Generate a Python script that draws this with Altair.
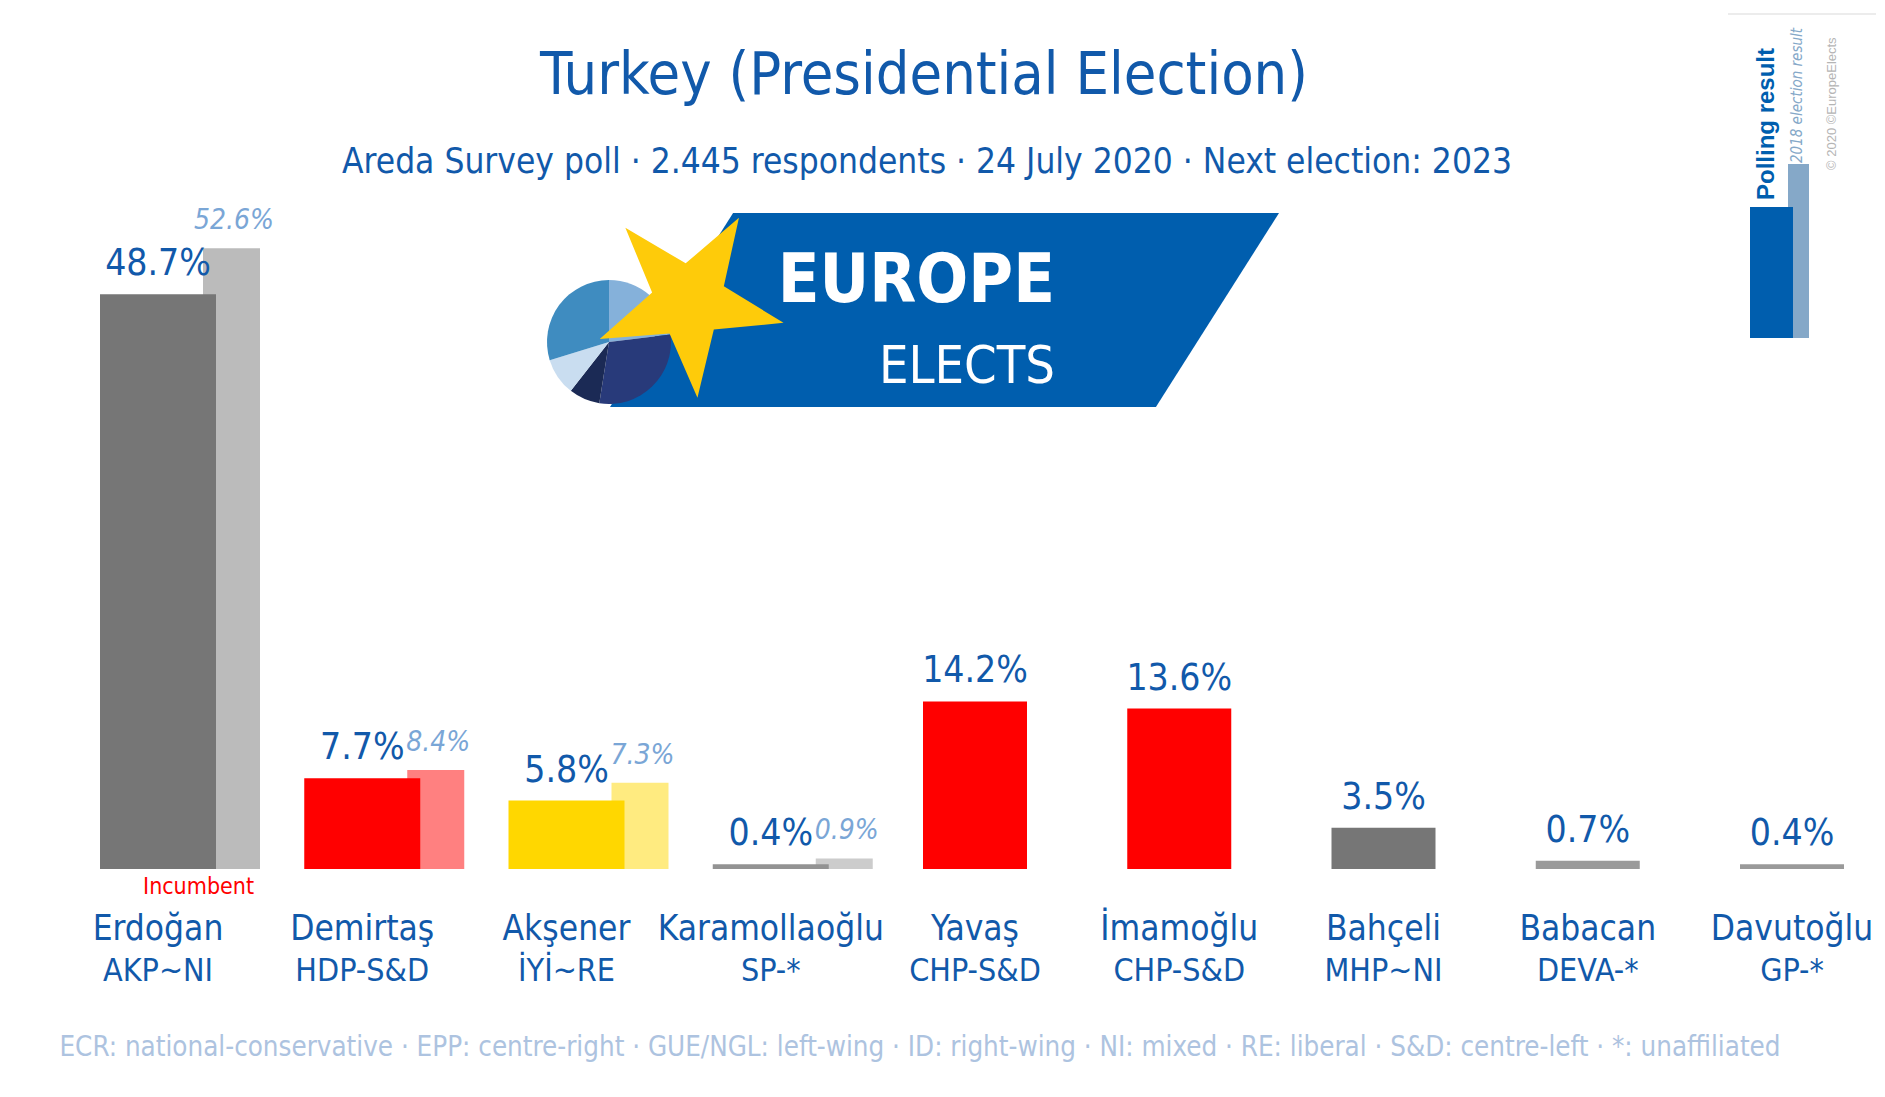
import math
import altair as alt
import pandas as pd

# ---------------- data ----------------
CANDIDATES = ["Erdoğan", "Demirtaş", "Akşener", "Karamollaoğlu", "Yavaş",
              "İmamoğlu", "Bahçeli", "Babacan", "Davutoğlu"]
PARTIES = ["AKP~NI", "HDP-S&D", "İYİ~RE", "SP-*", "CHP-S&D",
           "CHP-S&D", "MHP~NI", "DEVA-*", "GP-*"]
POLL = [48.7, 7.7, 5.8, 0.4, 14.2, 13.6, 3.5, 0.7, 0.4]
PREV = [52.6, 8.4, 7.3, 0.9, None, None, None, None, None]
INCUMBENT = "Erdoğan"

MAIN_COLORS = ["#767676", "#ff0000", "#ffd700", "#939393", "#ff0000",
               "#ff0000", "#767676", "#9a9a9a", "#9a9a9a"]
PREV_COLORS = ["#bbbbbb", "#ff8080", "#ffeb80", "#cccccc", "#ffffff",
               "#ffffff", "#ffffff", "#ffffff", "#ffffff"]

TITLE = "Turkey (Presidential Election)"
SUBTITLE = "Areda Survey poll · 2.445 respondents · 24 July 2020 · Next election: 2023"
FOOTER = ("ECR: national-conservative · EPP: centre-right · GUE/NGL: left-wing · "
          "ID: right-wing · NI: mixed · RE: liberal · S&D: centre-left · *: unaffiliated")
KEY_POLL = "Polling result"
KEY_PREV = "2018 election result"
COPYRIGHT = "© 2020 ©EuropeElects"

LOGO_TOP = "EUROPE"
LOGO_BOTTOM = "ELECTS"
PIE_SHARES = [83, 106, 29, 35, 107]
PIE_COLORS = ["#85b1da", "#283a7a", "#1b2a55", "#c9ddf0", "#3f8cc0"]

# ---------------- styles ----------------
FONT = "DejaVu Sans Condensed, sans-serif"
BLUE = "#1159aa"
LIGHT_BLUE = "#7aa6d6"
LOGO_BLUE = "#005eae"

df = pd.DataFrame({"candidate": CANDIDATES, "party": PARTIES,
                   "poll": POLL, "prev": PREV})

xs = alt.X("candidate:N", sort=CANDIDATES, axis=None,
           scale=alt.Scale(type="point", domain=CANDIDATES, range=[150, 1784], padding=0))
Y_BASE = 861
PX_PER = 11.8
yscale = alt.Scale(domain=[0, 60], range=[Y_BASE, Y_BASE - 60 * PX_PER])

base = alt.Chart(df).transform_calculate(
    lbl="format(datum.poll, '.1f') + '%'",
    plbl="isValid(datum.prev) ? format(datum.prev, '.1f') + '%' : ''",
)

prev_bars = base.transform_filter("isValid(datum.prev)").mark_bar(
    size=57, xOffset=73.5).encode(
    x=xs,
    y=alt.Y("prev:Q", scale=yscale, axis=None),
    color=alt.Color("candidate:N", scale=alt.Scale(domain=CANDIDATES, range=PREV_COLORS), legend=None),
)

main_bars = base.mark_bar().encode(
    x=xs,
    y=alt.Y("poll:Q", scale=yscale, axis=None),
    color=alt.Color("candidate:N", scale=alt.Scale(domain=CANDIDATES, range=MAIN_COLORS), legend=None),
    size=alt.condition("isValid(datum.prev)", alt.value(116), alt.value(104)),
)

main_lbl = base.mark_text(baseline="alphabetic", dy=-19, font=FONT, fontSize=37,
                          color=BLUE).encode(
    x=xs, y=alt.Y("poll:Q", scale=yscale, axis=None), text="lbl:N")

prev_lbl = base.transform_filter("isValid(datum.prev)").mark_text(
    baseline="alphabetic", dy=-19, dx=76, font=FONT, fontSize=28,
    fontStyle="italic", color=LIGHT_BLUE).encode(
    x=xs, y=alt.Y("prev:Q", scale=yscale, axis=None), text="plbl:N")

names = base.mark_text(baseline="alphabetic", font=FONT, fontSize=35, color=BLUE).encode(
    x=xs, y=alt.value(932), text="candidate:N")

parties = base.mark_text(baseline="alphabetic", font=FONT, fontSize=32, color=BLUE).encode(
    x=xs, y=alt.value(973), text="party:N")

incumbent = base.transform_filter(alt.datum.candidate == INCUMBENT).mark_text(
    baseline="alphabetic", align="right", dx=96, font=FONT, fontSize=23,
    color="#ff0000").encode(x=xs, y=alt.value(886), text=alt.value("Incumbent"))


def text_layer(txt, x, y, **kw):
    return alt.Chart(pd.DataFrame({"t": [txt]})).mark_text(
        baseline="alphabetic", **kw).encode(x=alt.value(x), y=alt.value(y), text="t:N")


title = text_layer(TITLE, 916, 86, font=FONT, fontSize=59, color=BLUE)
subtitle = text_layer(SUBTITLE, 919, 165, font=FONT, fontSize=35, color=BLUE)
footer = text_layer(FOOTER, 912, 1048, font=FONT, fontSize=27.5, color="#adc3e0")

# ---------------- logo ----------------
one = pd.DataFrame({"a": [0]})
para_path = "M-0.632,-0.29L1,-0.29L0.632,0.29L-1,0.29Z"
para = alt.Chart(one).mark_point(shape=para_path, filled=True, size=669 ** 2,
                                 color=LOGO_BLUE, opacity=1, strokeWidth=0).encode(
    x=alt.value(936.5), y=alt.value(302))

pie_df = pd.DataFrame({"v": PIE_SHARES, "c": PIE_COLORS, "i": list(range(len(PIE_SHARES)))})
pie = alt.Chart(pie_df).mark_arc(radius=62, x=601, y=334).encode(
    theta=alt.Theta("v:Q", stack=True),
    color=alt.Color("c:N", scale=None, legend=None),
    order=alt.Order("i:Q"),
)

pts = []
for k in range(10):
    a = math.radians(31 + 36 * k)
    r = 1.0 if k % 2 == 0 else 0.39
    pts.append(f"{r * math.sin(a):.4f},{-r * math.cos(a):.4f}")
star_path = "M" + "L".join(pts) + "Z"
star = alt.Chart(one).mark_point(shape=star_path, filled=True, size=(2 * 97) ** 2,
                                 color="#fecb0a", opacity=1, strokeWidth=0).encode(
    x=alt.value(681), y=alt.value(293))

logo_top = text_layer(LOGO_TOP, 1047, 294, align="right", font=FONT, fontSize=68,
                      fontWeight="bold", color="white")
logo_bottom = text_layer(LOGO_BOTTOM, 1047, 375, align="right", font=FONT, fontSize=52,
                         color="white")

# ---------------- key (top right) ----------------
key_line = alt.Chart(one).mark_rule(color="#e6e6e6", strokeWidth=1.5).encode(
    x=alt.value(1720), x2=alt.value(1868), y=alt.value(6))
key_prev = alt.Chart(one).mark_rect(color="#85a8c8").encode(
    x=alt.value(1780), x2=alt.value(1801), y=alt.value(156), y2=alt.value(330))
key_poll = alt.Chart(one).mark_rect(color=LOGO_BLUE).encode(
    x=alt.value(1742), x2=alt.value(1785), y=alt.value(199), y2=alt.value(330))
key_t1 = text_layer(KEY_POLL, 1766, 192, angle=270, align="left",
                    font="Liberation Sans, sans-serif", fontWeight="bold", fontSize=24,
                    color=LOGO_BLUE)
key_t2 = text_layer(KEY_PREV, 1794, 155, angle=270, align="left", font=FONT,
                    fontStyle="italic", fontSize=15, color="#85a8c8")
key_t3 = text_layer(COPYRIGHT, 1828, 162, angle=270, align="left",
                    font="Liberation Sans, sans-serif", fontSize=13, color="#b5b5b5")

chart = alt.layer(
    prev_bars, main_bars, main_lbl, prev_lbl, names, parties, incumbent,
    title, subtitle, footer,
    para, pie, star, logo_top, logo_bottom,
    key_line, key_prev, key_poll, key_t1, key_t2, key_t3,
).resolve_scale(color="independent").properties(
    width=1869, height=1081, autosize="none", padding=0, background="white"
).configure_view(stroke=None)

chart.save("out.html", embed_options={"renderer": "svg", "actions": False})
